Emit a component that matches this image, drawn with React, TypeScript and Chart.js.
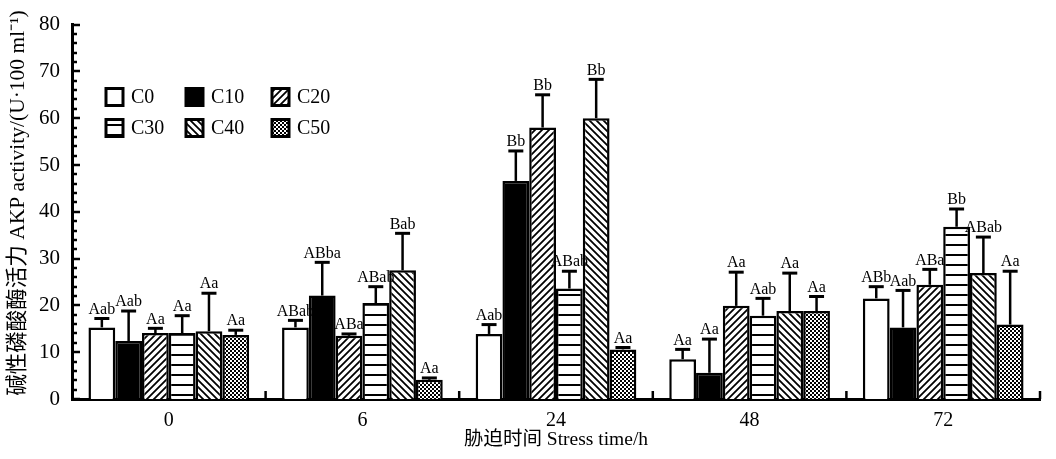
import React, { useEffect, useRef } from "react";
import { Chart, registerables } from "chart.js";
Chart.register(...registerables);

const categories = ["0", "6", "24", "48", "72"];
const seriesNames = ["C0", "C10", "C20", "C30", "C40", "C50"];

const c0 = [15.3, 15.3, 13.9, 8.5, 21.5];
const c10 = [12.4, 22.1, 46.6, 5.6, 15.3];
const c20 = [14.1, 13.5, 58.0, 19.9, 24.4];
const c30 = [14.1, 20.5, 23.6, 17.8, 36.8];
const c40 = [14.5, 27.5, 60.0, 18.8, 26.9];
const c50 = [13.7, 4.1, 10.6, 18.8, 15.9];

const c0Err = [17.2, 16.8, 15.9, 10.6, 24.0];
const c10Err = [18.8, 29.2, 53.0, 12.8, 23.2];
const c20Err = [15.1, 13.9, 65.0, 27.1, 27.7];
const c30Err = [17.8, 24.0, 27.3, 21.5, 40.6];
const c40Err = [22.6, 35.4, 68.3, 26.9, 34.6];
const c50Err = [14.7, 4.5, 11.0, 21.9, 27.3];

const c0Labels = ["Aab", "ABab", "Aab", "Aa", "ABb"];
const c10Labels = ["Aab", "ABba", "Bb", "Aa", "Aab"];
const c20Labels = ["Aa", "ABa", "Bb", "Aa", "ABa"];
const c30Labels = ["Aa", "ABab", "ABab", "Aab", "Bb"];
const c40Labels = ["Aa", "Bab", "Bb", "Aa", "ABab"];
const c50Labels = ["Aa", "Aa", "Aa", "Aa", "Aa"];

const yTicks = [0, 10, 20, 30, 40, 50, 60, 70, 80];

const yTitle = "碱性磷酸酶活力 AKP activity/(U·100 ml⁻¹)";
const xTitle = "胁迫时间 Stress time/h";

const FONT = "'Liberation Serif', 'Noto Sans CJK SC', serif";

function makePattern(kind: string): CanvasPattern | string {
  if (kind === "white") return "#ffffff";
  if (kind === "black") return "#000000";
  const c = document.createElement("canvas");
  const ctx = c.getContext("2d")!;
  if (kind === "fwd" || kind === "back") {
    const s = 7;
    c.width = s;
    c.height = s;
    ctx.fillStyle = "#fff";
    ctx.fillRect(0, 0, s, s);
    ctx.strokeStyle = "#000";
    ctx.lineWidth = 1.8;
    ctx.beginPath();
    if (kind === "fwd") {
      ctx.moveTo(-1, s + 1);
      ctx.lineTo(s + 1, -1);
      ctx.moveTo(-1, 1);
      ctx.lineTo(1, -1);
      ctx.moveTo(s - 1, s + 1);
      ctx.lineTo(s + 1, s - 1);
    } else {
      ctx.moveTo(-1, -1);
      ctx.lineTo(s + 1, s + 1);
      ctx.moveTo(s - 1, -1);
      ctx.lineTo(s + 1, 1);
      ctx.moveTo(-1, s - 1);
      ctx.lineTo(1, s + 1);
    }
    ctx.stroke();
  } else if (kind === "horiz") {
    c.width = 8;
    c.height = 10;
    ctx.fillStyle = "#fff";
    ctx.fillRect(0, 0, 8, 10);
    ctx.fillStyle = "#000";
    ctx.fillRect(0, 4, 8, 2);
  } else if (kind === "check") {
    c.width = 4;
    c.height = 4;
    ctx.fillStyle = "#fff";
    ctx.fillRect(0, 0, 4, 4);
    ctx.fillStyle = "#000";
    ctx.fillRect(0, 0, 2, 2);
    ctx.fillRect(2, 2, 2, 2);
  }
  return ctx.createPattern(c, "repeat")!;
}

export default function App() {
  const ref = useRef<HTMLCanvasElement | null>(null);

  useEffect(() => {
    const canvas = ref.current!;
    const fills = ["white", "black", "fwd", "horiz", "back", "check"].map(makePattern);
    const values = [c0, c10, c20, c30, c40, c50];
    const errs = [c0Err, c10Err, c20Err, c30Err, c40Err, c50Err];
    const labels = [c0Labels, c10Labels, c20Labels, c30Labels, c40Labels, c50Labels];

    const overlay = {
      id: "overlay",
      afterDatasetsDraw(chart: any) {
        const ctx = chart.ctx;
        const yScale = chart.scales.y;
        ctx.save();
        values.forEach((_, di) => {
          const meta = chart.getDatasetMeta(di);
          meta.data.forEach((el: any, i: number) => {
            const x = el.x;
            const yTop = el.y;
            const yE = yScale.getPixelForValue(errs[di][i]);
            ctx.strokeStyle = "#000";
            ctx.lineWidth = 2.5;
            ctx.beginPath();
            ctx.moveTo(x, yTop);
            ctx.lineTo(x, yE);
            ctx.stroke();
            ctx.lineWidth = 3;
            ctx.beginPath();
            ctx.moveTo(x - 7.5, yE);
            ctx.lineTo(x + 7.5, yE);
            ctx.stroke();
            ctx.fillStyle = "#000";
            ctx.font = `16px ${FONT}`;
            ctx.textAlign = "center";
            ctx.textBaseline = "bottom";
            ctx.fillText(labels[di][i], x, yE - 1);
          });
        });
        ctx.restore();
      },
      afterDraw(chart: any) {
        const ctx = chart.ctx;
        const area = chart.chartArea;
        const yScale = chart.scales.y;
        ctx.save();
        ctx.strokeStyle = "#000";
        ctx.lineWidth = 2.5;
        for (let v = 0; v <= 80; v += 2) {
          const y = Math.round(yScale.getPixelForValue(v));
          const len = v % 10 === 0 ? 8 : 5;
          ctx.beginPath();
          ctx.moveTo(area.left, y);
          ctx.lineTo(area.left + len, y);
          ctx.stroke();
        }
        const n = categories.length;
        const w = (area.right - area.left) / n;
        for (let i = 1; i <= n; i++) {
          const x = area.left + w * i;
          ctx.beginPath();
          ctx.moveTo(x, area.bottom);
          ctx.lineTo(x, area.bottom - 8);
          ctx.stroke();
        }
        ctx.fillStyle = "#000";
        ctx.font = `19.5px ${FONT}`;
        ctx.textAlign = "center";
        ctx.textBaseline = "middle";
        ctx.fillText(xTitle, (area.left + area.right) / 2, 440);
        ctx.save();
        ctx.translate(18, 203);
        ctx.rotate(-Math.PI / 2);
        ctx.font = `21.5px ${FONT}`;
        ctx.fillText(yTitle, 0, 0);
        ctx.restore();
        const pos = [
          [106, 97], [186, 97], [272, 97],
          [106, 128], [186, 128], [272, 128],
        ];
        seriesNames.forEach((name, i) => {
          const [bx, cy] = pos[i];
          const s = 17;
          ctx.fillStyle = fills[i] as any;
          ctx.fillRect(bx, cy - s / 2, s, s);
          ctx.lineWidth = 3;
          ctx.strokeStyle = "#000";
          ctx.strokeRect(bx, cy - s / 2, s, s);
          ctx.fillStyle = "#000";
          ctx.font = `20px ${FONT}`;
          ctx.textAlign = "left";
          ctx.textBaseline = "middle";
          ctx.fillText(name, bx + s + 8, cy + 1);
        });
        ctx.restore();
      },
    };

    const chart = new Chart(canvas, {
      type: "bar",
      data: {
        labels: categories,
        datasets: seriesNames.map((name, i) => ({
          label: name,
          data: values[i],
          backgroundColor: fills[i] as any,
          borderColor: "#000",
          borderWidth: 2.5,
          borderSkipped: "bottom",
          categoryPercentage: 0.83,
          barPercentage: 1.0,
        })),
      },
      options: {
        responsive: true,
        maintainAspectRatio: false,
        animation: false,
        layout: { padding: { top: 13, right: 16, left: 0, bottom: 0 } },
        plugins: {
          legend: { display: false },
          tooltip: { enabled: false },
        },
        scales: {
          x: {
            type: "category",
            offset: true,
            grid: { display: false, drawTicks: false },
            border: { display: true, color: "#000", width: 3 },
            ticks: {
              color: "#000",
              font: { family: FONT, size: 20 },
              padding: 10,
            },
            afterFit: (scale: any) => {
              scale.height = 60;
            },
          },
          y: {
            min: 0,
            max: 80,
            grid: { display: false, drawTicks: false },
            border: { display: true, color: "#000", width: 3 },
            afterBuildTicks: (scale: any) => {
              scale.ticks = yTicks.map((v) => ({ value: v }));
            },
            ticks: {
              color: "#000",
              font: { family: FONT, size: 21 },
              padding: 12,
            },
            afterFit: (scale: any) => {
              scale.width = 72;
            },
          },
        },
      },
      plugins: [overlay],
    });
    return () => chart.destroy();
  }, []);

  return (
    <div style={{ position: "fixed", left: 0, top: 0, width: 1056, height: 459, background: "#fff" }}>
      <canvas ref={ref} />
    </div>
  );
}
